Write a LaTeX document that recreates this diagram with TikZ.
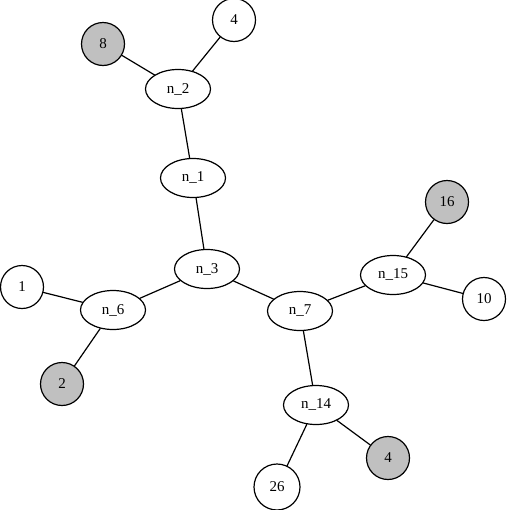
\documentclass[tikz,border=0pt]{standalone}
\usepackage{fontspec}
\setmainfont{Liberation Serif}
\usetikzlibrary{shapes.geometric}
\definecolor{leafgray}{RGB}{192,192,192}
\begin{document}
\begin{tikzpicture}[x=1pt, y=-1pt, font=\fontsize{15}{17}\selectfont, line join=round, line cap=round,
	inner/.style={draw, line width=1.2pt, ellipse, inner sep=0pt, minimum width=65pt, minimum height=39pt},
	leaf/.style={draw, line width=1.2pt, circle, inner sep=0pt, minimum size=43pt},
	marked/.style={leaf, fill=leafgray},
	edge/.style={line width=1.2pt}]
				\useasboundingbox (0,0) rectangle (510,509);
				% inner nodes
				\foreach \ten/\x/\y in {2/178/89, 1/193/178, 3/207/269, 6/113/310, 7/300/311, 15/393/275, 14/316/405}
					\node[inner] (n\ten) at (\x,\y) {n\_\ten};
				% leaves
				\node[leaf] (top4) at (234,20) {4};
				\node[marked] (l8) at (103,44) {8};
				\node[leaf] (l1) at (22,287) {1};
				\node[marked] (l2) at (62,384) {2};
				\node[marked] (l16) at (447,202) {16};
				\node[leaf] (l10) at (484,299) {10};
				\node[leaf, minimum size=46pt] (l26) at (277,487) {26};
				\node[marked] (bot4) at (388,458) {4};
				% edges
				\foreach \u/\v in {n2/top4, n2/l8, n2/n1, n1/n3, n3/n6, n3/n7, n6/l1, n6/l2, n7/n15, n7/n14, n15/l16, n15/l10, n14/l26, n14/bot4}
					\draw[edge] (\u) -- (\v);
	\end{tikzpicture}
\end{document}
